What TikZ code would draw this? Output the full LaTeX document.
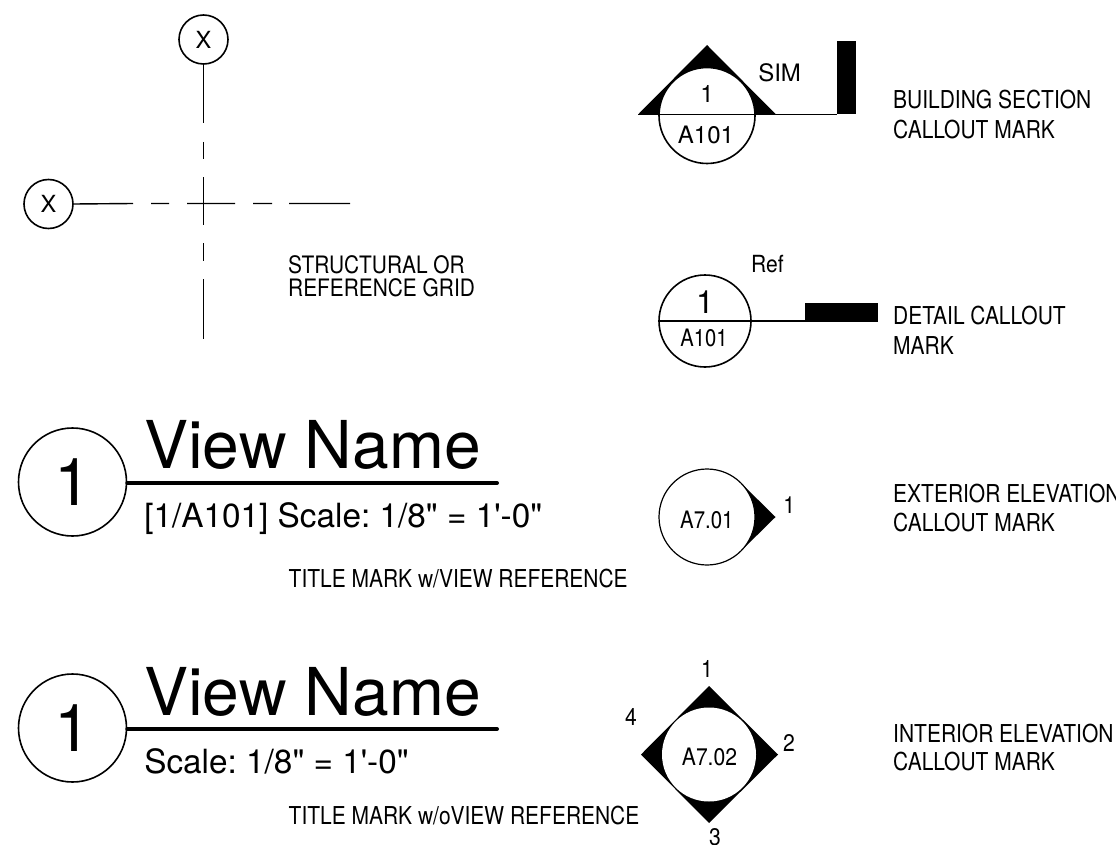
\documentclass[tikz,border=0pt]{standalone}
\usepackage{fontspec}
\setmainfont{TeX Gyre Heros}
\newfontfamily\plainf{TeX Gyre Heros}
\frenchspacing
\tikzset{
  x=0.75pt,y=-0.75pt,
  wire/.style={draw=black,line width=1.05pt},
  heavy/.style={draw=black,line width=1.4pt},
  bar/.style={draw=black,line width=3pt,line cap=round},
  tx/.style 2 args={inner sep=0,anchor=base west,xscale=#2,font=\plainf\frenchspacing\fontsize{#1}{#1}\selectfont},
  cx/.style 2 args={inner sep=0,anchor=base,xscale=#2,font=\plainf\frenchspacing\fontsize{#1}{#1}\selectfont},
  bub/.style={circle,draw=black,line width=1.2pt,fill=white,inner sep=0,minimum size=#1*0.75pt},
  blk/.style 2 args={rectangle,fill=black,inner sep=0,minimum width=#1*0.75pt,minimum height=#2*0.75pt},
}
\begin{document}
\begin{tikzpicture}
\useasboundingbox (0,0) rectangle (1116,845);
% ---- grid
\node[bub=49,font=\plainf\fontsize{17.7}{17.7}\selectfont] (gx) at (203.5,39.5) {X};
\node[bub=49,font=\plainf\fontsize{17.7}{17.7}\selectfont] (gy) at (48.5,204) {X};
\coordinate (v1) at (203.5,123); \coordinate (v2) at (203.5,142); \coordinate (v3) at (203.5,159);
\coordinate (v4) at (203.5,177); \coordinate (v5) at (203.5,225); \coordinate (v6) at (203.5,243);
\coordinate (v7) at (203.5,261); \coordinate (v8) at (203.5,279); \coordinate (v9) at (203.5,339);
\draw[wire] (gx)--(v1) (v2)--(v3) (v4)--(v5) (v6)--(v7) (v8)--(v9);
\coordinate (h1) at (133,203.5); \coordinate (h2) at (151,203.5); \coordinate (h3) at (169,203.5);
\coordinate (h4) at (187,203.5); \coordinate (h5) at (235,203.5); \coordinate (h6) at (253,203.5);
\coordinate (h7) at (272,203.5); \coordinate (h8) at (289,203.5); \coordinate (h9) at (350,203.5);
\draw[wire] (gy.east)--(h1) (h2)--(h3) (h4)--(h5) (h6)--(h7) (h8)--(h9);
\node[tx={18}{.87}] (g1) at (288,273) {STRUCTURAL OR};
\node[tx={18}{.87}] (g2) at (288,296) {REFERENCE GRID};
% ---- building section
\coordinate (sa) at (707,45); \coordinate (sl) at (638,114.5); \coordinate (sr) at (776,114.5);
\fill (sa)--(sl)--(sr)--cycle;
\node[bub=96] (sc) at (707,115.5) {};
\node[blk={19}{73},anchor=south west] (sb) at (837,114.5) {};
\draw[wire] (sr)--(sb.south west);
\draw[heavy] (sl)--(sr);
\node[cx={18}{1}] (s1) at (707,103) {1};
\node[cx={18}{1}] (s2) at (706,144) {A101};
\node[tx={18}{1}] (s3) at (758,82) {SIM};
\node[tx={18.5}{.85}] (s4) at (893,109) {BUILDING SECTION};
\node[tx={18.5}{.85}] (s5) at (893,138) {CALLOUT MARK};
% ---- detail
\node[bub=92] (dc) at (705,321) {};
\node[blk={73}{19},anchor=south west] (db) at (805,322) {};
\draw[heavy] (dc.west)--(dc.east);
\draw[wire] (dc.east)--(db.south west|-dc.east);
\node[cx={24}{1}] (d1) at (705,313) {1};
\node[cx={18}{.84}] (d2) at (704,346) {A101};
\node[tx={17.7}{.89}] (d3) at (751,272) {Ref};
\node[tx={18.5}{.85}] (d4) at (893,324) {DETAIL CALLOUT};
\node[tx={18.5}{.85}] (d5) at (893,354) {MARK};
% ---- title 1
\node[bub=108,font=\plainf\fontsize{49.5}{49.5}\selectfont] (t1) at (72.5,482) {1};
\coordinate (t1e) at (497,483);
\draw[bar] (t1.east|-t1e)--(t1e);
\node[tx={49.5}{1}] (t1a) at (144,468) {View Name};
\node[tx={25}{1}] (t1b) at (144,527) {[1/A101] Scale: 1/8" = 1'-0"};
\node[tx={18.5}{.85}] (t1c) at (288.5,587) {TITLE MARK w/VIEW REFERENCE};
% ---- title 2
\node[bub=108,font=\plainf\fontsize{49.5}{49.5}\selectfont] (t2) at (72.5,728) {1};
\coordinate (t2e) at (497,729);
\draw[bar] (t2.east|-t2e)--(t2e);
\node[tx={49.5}{1}] (t2a) at (144,715) {View Name};
\node[tx={25}{1}] (t2b) at (144,773) {Scale: 1/8" = 1'-0"};
\node[tx={18.5}{.85}] (t2c) at (288.5,824) {TITLE MARK w/oVIEW REFERENCE};
% ---- exterior
\coordinate (ea) at (741,483); \coordinate (eb) at (775.5,517); \coordinate (ec) at (741,551);
\fill (ea)--(eb)--(ec)--cycle;
\node[bub=96,line width=.9pt] (ex) at (707,517) {};
\node[tx={18}{.85}] (e1) at (680,528) {A7.01};
\node[tx={17.7}{.89}] (e2) at (783,513) {1};
\node[tx={18.5}{.85}] (e3) at (893,502) {EXTERIOR ELEVATION};
\node[tx={18.5}{.85}] (e4) at (893,531) {CALLOUT MARK};
% ---- interior
\coordinate (ia) at (709,686); \coordinate (ib) at (778,754.5); \coordinate (ic) at (709,823); \coordinate (id) at (641,754.5);
\fill (ia)--(ib)--(ic)--(id)--cycle;
\node[circle,fill=white,inner sep=0,minimum size=94*0.75pt] (in) at (709,754.5) {};
\node[cx={18}{.88}] (i0) at (709.5,765) {A7.02};
\node[cx={18}{.88}] (i1) at (707,677) {1};
\node[cx={18}{.88}] (i4) at (631,725) {4};
\node[cx={18}{.88}] (i2) at (789,751) {2};
\node[cx={18}{.88}] (i3) at (715,845) {3};
\node[tx={18.5}{.85}] (i5) at (893,742) {INTERIOR ELEVATION};
\node[tx={18.5}{.85}] (i6) at (893,770) {CALLOUT MARK};
\end{tikzpicture}
\end{document}
